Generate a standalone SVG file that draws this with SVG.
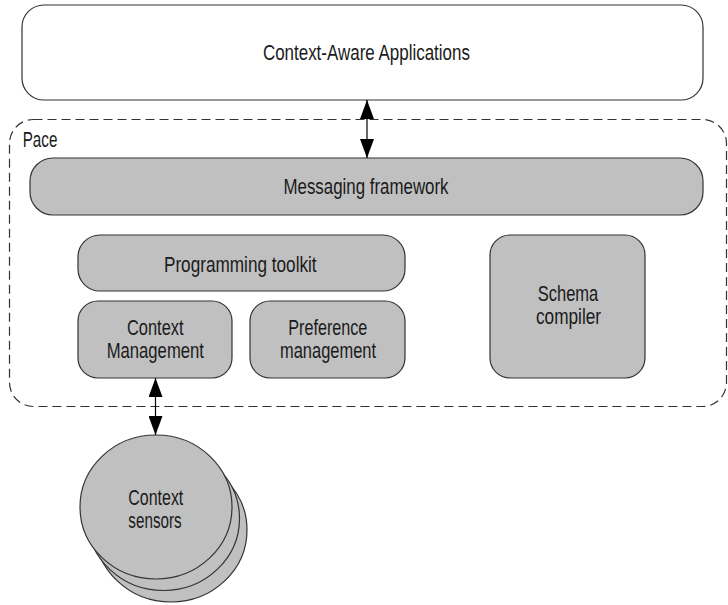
<svg xmlns="http://www.w3.org/2000/svg" width="728" height="605" viewBox="0 0 728 605">
<style>
.box{fill:#c0c0c0;stroke:#333;stroke-width:1.2}
.white{fill:#fff;stroke:#333;stroke-width:1.2}
.dash{fill:none;stroke:#333;stroke-width:1.2;stroke-dasharray:9 5}
.t{font-family:"Liberation Sans",Arial,sans-serif;font-size:22px;fill:#1a1a1a}
.c{text-anchor:middle}
.conn{stroke:#000;stroke-width:1.2;fill:none;marker-start:url(#ah);marker-end:url(#ah)}
</style>
<defs>
<marker id="ah" markerUnits="userSpaceOnUse" markerWidth="19" markerHeight="14" refX="19" refY="7" orient="auto-start-reverse">
<path d="M0,0 L19,7 L0,14 Z" fill="#000"/>
</marker>
</defs>
<g id="apps">
<rect class="white" x="22" y="5" width="681" height="95" rx="22"/>
<text class="t c" x="366.4" y="60" textLength="207" lengthAdjust="spacingAndGlyphs">Context-Aware Applications</text>
</g>
<g id="pace">
<rect class="dash" x="9.5" y="119.5" width="717" height="287" rx="24"/>
<text class="t" x="22.7" y="147" textLength="34.7" lengthAdjust="spacingAndGlyphs">Pace</text>
</g>
<g id="messaging">
<rect class="box" x="30" y="158" width="673" height="57" rx="23"/>
<text class="t c" x="366" y="194" textLength="165" lengthAdjust="spacingAndGlyphs">Messaging framework</text>
</g>
<g id="toolkit">
<rect class="box" x="78" y="235" width="327" height="56" rx="22"/>
<text class="t c" x="240.3" y="271.5" textLength="152.7" lengthAdjust="spacingAndGlyphs">Programming toolkit</text>
</g>
<g id="context-mgmt">
<rect class="box" x="78" y="301" width="154" height="77" rx="20"/>
<text class="t c" x="155.3" y="335" textLength="56.6" lengthAdjust="spacingAndGlyphs">Context</text>
<text class="t c" x="155.3" y="358.3" textLength="97.3" lengthAdjust="spacingAndGlyphs">Management</text>
</g>
<g id="pref-mgmt">
<rect class="box" x="250" y="301" width="155" height="77" rx="20"/>
<text class="t c" x="327.8" y="335" textLength="79" lengthAdjust="spacingAndGlyphs">Preference</text>
<text class="t c" x="328" y="358.3" textLength="96" lengthAdjust="spacingAndGlyphs">management</text>
</g>
<g id="schema">
<rect class="box" x="490" y="235" width="155" height="143" rx="20"/>
<text class="t c" x="568" y="301" textLength="60.6" lengthAdjust="spacingAndGlyphs">Schema</text>
<text class="t c" x="568.5" y="324" textLength="65" lengthAdjust="spacingAndGlyphs">compiler</text>
</g>
<g id="sensors">
<ellipse class="box" cx="171" cy="530" rx="76" ry="72"/>
<ellipse class="box" cx="163.5" cy="518.5" rx="76" ry="72"/>
<ellipse class="box" cx="156" cy="507" rx="76" ry="72"/>
<text class="t c" x="155.8" y="505" textLength="55" lengthAdjust="spacingAndGlyphs">Context</text>
<text class="t c" x="155" y="528.3" textLength="53.3" lengthAdjust="spacingAndGlyphs">sensors</text>
</g>
<g id="connectors">
<line class="conn" x1="367" y1="100" x2="367" y2="158"/>
<line class="conn" x1="155.5" y1="378" x2="155.5" y2="435"/>
</g>
</svg>
